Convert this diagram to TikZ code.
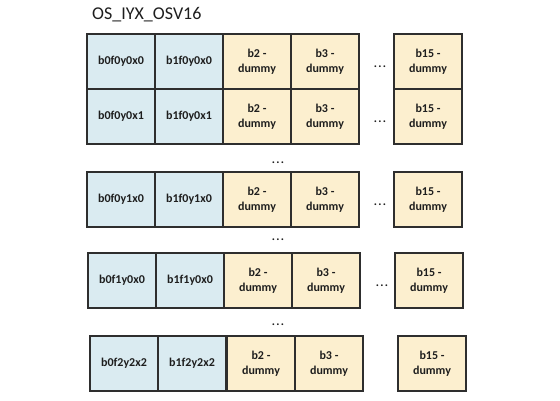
\documentclass[tikz,border=0pt]{standalone}
\usepackage{fontspec}
\setmainfont{Carlito}
\usetikzlibrary{shadows.blur,backgrounds}
\definecolor{cblue}{HTML}{DAEBF1}
\definecolor{cyell}{HTML}{FCEFCF}
\definecolor{cline}{HTML}{2E2E2E}
\definecolor{ctext}{HTML}{1E1E1E}
\newcommand\mydots{.\kern1.2pt.\kern1.2pt.}
\begin{document}
\begin{tikzpicture}[x=1pt,y=-1pt,
  cell/.style={draw=cline, line width=1.1pt, inner sep=0pt, outer sep=0pt,
    minimum width=68pt, minimum height=55pt, anchor=north west, align=center,
    font=\fontsize{12}{14.5}\selectfont\bfseries, text=ctext},
  bcell/.style={cell, fill=cblue},
  ycell/.style={cell, fill=cyell},
  dots/.style={font=\fontsize{12}{14}\selectfont\bfseries, text=ctext, inner sep=0pt},
  shad/.style={fill=white, blur shadow={shadow xshift=2pt, shadow yshift=-3pt, shadow blur steps=6, shadow blur radius=3pt, shadow opacity=75}}
]
\useasboundingbox[fill=white] (0,0) rectangle (560,400);
\node[anchor=base west, font=\fontsize{18}{20}\selectfont, text=ctext, inner sep=0pt] (title) at (92,19) {OS\_IYX\_OSV16};
% rows 1-2
\node[bcell] (r1a) at (87,34) {b0f0y0x0};
\node[bcell] (r1b) at (155,34) {b1f0y0x0};
\node[ycell] (r1c) at (223,34) {b2 -\\dummy};
\node[ycell] (r1d) at (291,34) {b3 -\\dummy};
\node[ycell] (r1e) at (394,34) {b15 -\\dummy};
\node[dots] (r1dots) at (380,67) {\mydots};
\node[bcell] (r2a) at (87,89) {b0f0y0x1};
\node[bcell] (r2b) at (155,89) {b1f0y0x1};
\node[ycell] (r2c) at (223,89) {b2 -\\dummy};
\node[ycell] (r2d) at (291,89) {b3 -\\dummy};
\node[ycell] (r2e) at (394,89) {b15 -\\dummy};
\node[dots] (r2dots) at (380,122) {\mydots};
\node[dots] (v1) at (278,163) {\mydots};
% row 3
\node[bcell] (r3a) at (87,172) {b0f0y1x0};
\node[bcell] (r3b) at (155,172) {b1f0y1x0};
\node[ycell] (r3c) at (223,172) {b2 -\\dummy};
\node[ycell] (r3d) at (291,172) {b3 -\\dummy};
\node[ycell] (r3e) at (394,172) {b15 -\\dummy};
\node[dots] (r3dots) at (380,205) {\mydots};
\node[dots] (v2) at (278,240) {\mydots};
% row 4
\node[bcell] (r4a) at (88,253) {b0f1y0x0};
\node[bcell] (r4b) at (156,253) {b1f1y0x0};
\node[ycell] (r4c) at (224,253) {b2 -\\dummy};
\node[ycell] (r4d) at (292,253) {b3 -\\dummy};
\node[ycell] (r4e) at (395,253) {b15 -\\dummy};
\node[dots] (r4dots) at (382,286) {\mydots};
\node[dots] (v3) at (278,325) {\mydots};
% row 5
\node[bcell] (r5a) at (90,336) {b0f2y2x2};
\node[bcell] (r5b) at (158,336) {b1f2y2x2};
\node[ycell] (r5c) at (227,336) {b2 -\\dummy};
\node[ycell] (r5d) at (295,336) {b3 -\\dummy};
\node[ycell] (r5e) at (398,336) {b15 -\\dummy};
\begin{scope}[on background layer]
\path[shad] (r1a.north west) rectangle (r2d.south east);
\path[shad] (r1e.north west) rectangle (r2e.south east);
\path[shad] (r3a.north west) rectangle (r3d.south east);
\path[shad] (r3e.north west) rectangle (r3e.south east);
\path[shad] (r4a.north west) rectangle (r4d.south east);
\path[shad] (r4e.north west) rectangle (r4e.south east);
\path[shad] (r5a.north west) rectangle (r5d.south east);
\path[shad] (r5e.north west) rectangle (r5e.south east);
\end{scope}
\end{tikzpicture}
\end{document}
